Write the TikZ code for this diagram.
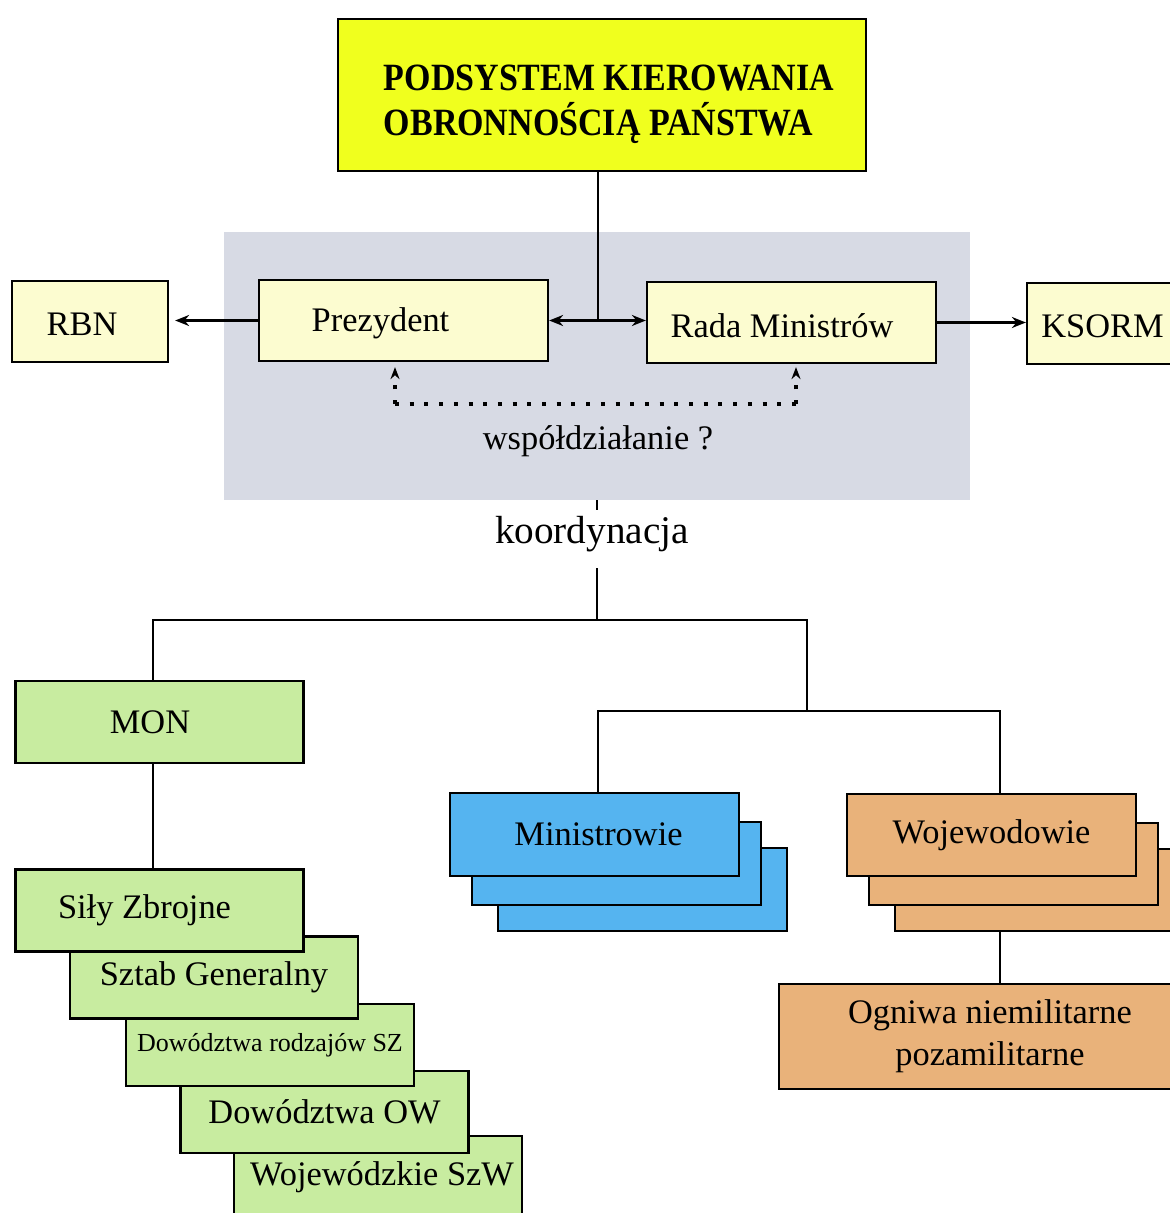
\documentclass[tikz,border=0pt]{standalone}
\usepackage{fontspec}
\setmainfont{Liberation Serif}
\newfontfamily\titlefont{Liberation Serif}[FakeStretch=0.88]
\usetikzlibrary{arrows.meta}

\definecolor{titleyellow}{RGB}{240,255,30}
\definecolor{boxcream}{RGB}{252,252,208}
\definecolor{bggray}{RGB}{215,218,228}
\definecolor{mongreen}{RGB}{200,236,160}
\definecolor{minblue}{RGB}{85,180,240}
\definecolor{wojorange}{RGB}{233,178,122}

\tikzset{
  box/.style={draw, line width=1.1pt, inner sep=0pt},
  plainbox/.style={box, fill=boxcream, minimum height=40.5pt},
  greenbox/.style={box, fill=mongreen, minimum width=144pt, minimum height=41pt},
  minbox/.style={box, fill=minblue, minimum width=144.5pt, minimum height=41.5pt},
  wojbox/.style={box, fill=wojorange, minimum width=144.5pt, minimum height=41pt},
  link/.style={line width=1.1pt},
  tip/.style={-{Stealth[length=7pt,width=5.5pt]}},
  dottip/.style={-{Stealth[length=6pt,width=4.5pt]}},
  coop/.style={line width=2pt, dash pattern=on 2pt off 5.35pt},
}

\begin{document}
\begin{tikzpicture}[x=0.5pt, y=-0.5pt, font=\fontsize{17.2}{20.6}\selectfont]
    \useasboundingbox (0,0) rectangle (1169,1213);

    % upper part
    \node[fill=bggray, minimum width=373pt, minimum height=134pt, inner sep=0pt] (bg) at (597,366) {};
    \node[box, fill=titleyellow, minimum width=264pt, minimum height=76pt,
          label={[align=left, xshift=3.5pt, yshift=-4.5pt,
                  font=\titlefont\bfseries\fontsize{19.3}{22.5}\selectfont]center:PODSYSTEM KIEROWANIA\\OBRONNOŚCIĄ PAŃSTWA}]
          (title) at (602,95) {};

    \node[plainbox, minimum width=78pt, label={[xshift=-4pt, yshift=-1.5pt]center:RBN}] (rbn) at (90,321.5) {};
    \node[plainbox, minimum width=144.5pt, label={[xshift=-11.5pt, yshift=-1.5pt]center:Prezydent}] (prez) at (403.5,320.5) {};
    \node[plainbox, minimum width=144.5pt, label={[xshift=-4.75pt, yshift=-1.5pt]center:Rada Ministrów}] (rada) at (791.5,322.5) {};
    \node[plainbox, minimum width=75.5pt, label={[yshift=-1.5pt]center:KSORM}] (ksorm) at (1102.5,323.5) {};

    \coordinate (hub) at (598,320.5);
    \draw[link] (title.south -| hub) -- (hub);
    \draw[link, {Stealth[length=7pt,width=5.5pt]}-{Stealth[length=7pt,width=5.5pt]}] (prez.east) -- (prez.east -| rada.west);
    \draw[link, tip, shorten >=3pt] (prez.west) -- (prez.west -| rbn.east);
    \draw[link, tip] (rada.east) -- (rada.east -| ksorm.west);

    \coordinate (dl) at (395,404);
    \coordinate (dr) at (796,404);
    \draw[coop] (dl) -- (dr);
    \draw[coop, dottip, shorten >=2.5pt] (dl) -- (dl |- prez.south);
    \draw[coop, dottip, shorten >=1.5pt] (dr) -- (dr |- rada.south);
    \node (wsp) at (598,441) {współdziałanie ?};

    \node[font=\fontsize{19.6}{23}\selectfont] (koord) at (592,534) {koordynacja};
    \coordinate (k1) at (597,510);
    \coordinate (k2) at (597,568);
    \draw[link] (bg.south -| k1) -- (k1);

    % tree
    \coordinate (j0) at (597,620);
    \coordinate (jl) at (153,620);
    \coordinate (jr) at (807,620);
    \coordinate (jm) at (598,711);
    \coordinate (jw) at (1000,711);

    \node[greenbox, label={[xshift=-4.75pt]center:MON}] (mon) at (159.5,722) {};

    % green stack, back to front
    \node[greenbox] (sz5) at (378,1177) {\hspace{4pt}Wojewódzkie SzW};
    \node[greenbox] (sz4) at (324.5,1112) {Dowództwa OW};
    \node[greenbox, font=\fontsize{13}{15}\selectfont] (sz3) at (270,1045) {Dowództwa rodzajów SZ};
    \node[greenbox] (sz2) at (214,977.5) {Sztab Generalny};
    \node[greenbox, label={[xshift=-7.5pt]center:Siły Zbrojne}] (sz1) at (159.5,910.5) {};

    \foreach \dx/\dy/\n in {48/55/3, 22/29/2} {
      \node[minbox] (min\n) at ({594.5+\dx},{834.5+\dy}) {};
      \node[wojbox] (woj\n) at ({991.5+\dx},{835+\dy}) {};
    }
    \node[minbox, label={[xshift=2pt]center:Ministrowie}] (min1) at (594.5,834.5) {};
    \node[wojbox] (woj1) at (991.5,835) {Wojewodowie};

    \node[box, fill=wojorange, minimum width=211pt, minimum height=52.5pt, align=center,
          font=\fontsize{17.2}{21}\selectfont] (ogn) at (990,1036.5)
          {Ogniwa niemilitarne\\pozamilitarne};

    \draw[link] (k2) -- (j0);
    \draw[link] (jl |- mon.north) -- (jl) -- (jr) -- (jr |- jm);
    \draw[link] (mon.south -| jl) -- (sz1.north -| jl);
    \draw[link] (jm |- min1.north) -- (jm) -- (jw) -- (jw |- woj1.north);
    \draw[link] (woj3.south -| jw) -- (ogn.north -| jw);
  \end{tikzpicture}
\end{document}
